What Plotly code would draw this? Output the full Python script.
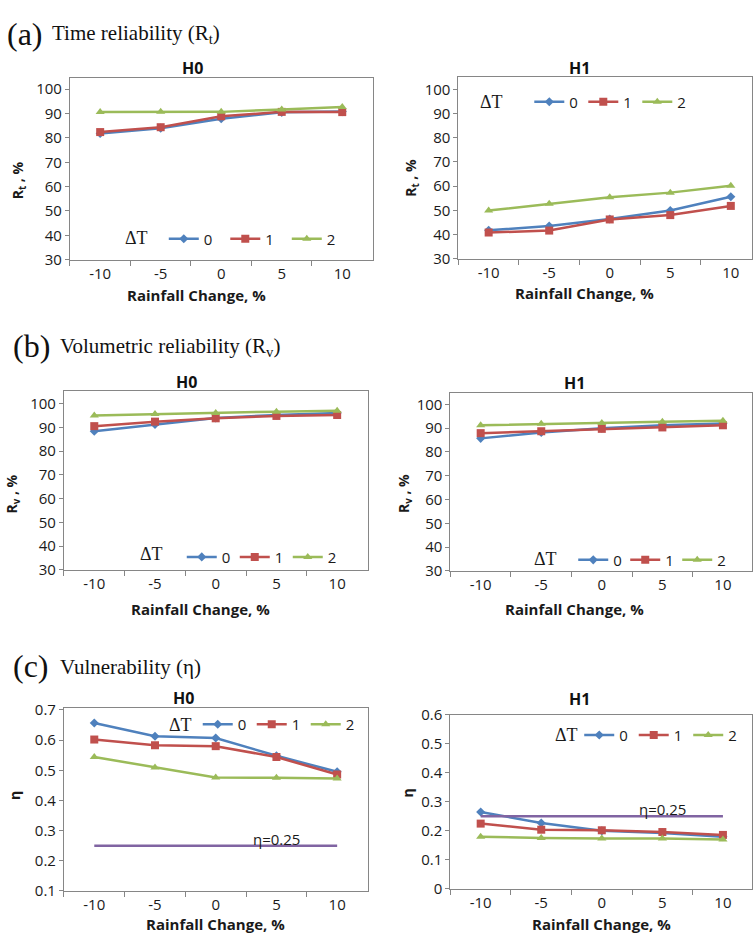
import plotly.graph_objects as go

W, H = 753, 941

rain = ["-10", "-5", "0", "5", "10"]
dT_names = ["0", "1", "2"]

# (a) Time reliability Rt
rt_h0_0 = [81.8, 84.0, 87.9, 90.5, 90.8]
rt_h0_1 = [82.4, 84.4, 88.9, 90.7, 90.6]
rt_h0_2 = [90.6, 90.7, 90.7, 91.7, 92.7]
rt_h1_0 = [41.7, 43.5, 46.4, 49.9, 55.6]
rt_h1_1 = [40.8, 41.6, 46.2, 48.0, 51.8]
rt_h1_2 = [49.9, 52.7, 55.4, 57.3, 60.1]

# (b) Volumetric reliability Rv
rv_h0_0 = [88.4, 91.2, 93.9, 95.2, 96.0]
rv_h0_1 = [90.5, 92.4, 93.8, 94.8, 95.2]
rv_h0_2 = [95.0, 95.6, 96.0, 96.6, 97.0]
rv_h1_0 = [85.7, 88.2, 90.0, 91.2, 92.0]
rv_h1_1 = [87.9, 88.7, 89.7, 90.3, 91.2]
rv_h1_2 = [91.2, 91.8, 92.2, 92.7, 93.1]

# (c) Vulnerability eta
eta_h0_0 = [0.657, 0.613, 0.607, 0.548, 0.495]
eta_h0_1 = [0.602, 0.583, 0.580, 0.544, 0.486]
eta_h0_2 = [0.544, 0.509, 0.476, 0.475, 0.473]
eta_h1_0 = [0.265, 0.227, 0.200, 0.193, 0.180]
eta_h1_1 = [0.225, 0.204, 0.202, 0.196, 0.186]
eta_h1_2 = [0.180, 0.175, 0.174, 0.174, 0.170]
eta_threshold = 0.25
eta_label = "η=0.25"

COLORS = ["#4F81BD", "#C0504D", "#9BBB59"]
SYMBOLS = ["diamond", "square", "triangle-up"]
MSIZE = [7, 8, 8]
PURPLE = "#8064A2"
NUMFONT = "Open Sans"
SERIF = "Liberation Serif"
AXC = "#868686"
TXT = "#1a1a1a"

fig = go.Figure()


def dom_x(l, r):
    return [l / W, min(r / W, 1.0)]


def dom_y(top, bot):
    return [1 - bot / H, 1 - top / H]


def py(v):
    return 1 - v / H


panels = [
    dict(series=[rt_h0_0, rt_h0_1, rt_h0_2], box=(70, 373, 68, 254), yr=[30, 104.8],
         yt=list(range(30, 101, 10)), xr=[-0.5, 4.5], ytitle="R<sub>t</sub> , %", title="H0",
         title_xy=(193, 58), xt_xy=(197, 290), yt_xy=(18, 173),
         dT=(123, 232), leg=(169, 233), sp=63.5, thr=False),
    dict(series=[rt_h1_0, rt_h1_1, rt_h1_2], box=(459, 753, 67, 253), yr=[30, 105.3],
         yt=list(range(30, 101, 10)), xr=[-0.5, 4.35], ytitle="R<sub>t</sub> , %", title="H1",
         title_xy=(580, 58), xt_xy=(585, 288), yt_xy=(412, 170),
         dT=(479, 93), leg=(535, 93), sp=56, thr=False),
    dict(series=[rv_h0_0, rv_h0_1, rv_h0_2], box=(64, 368, 388, 571), yr=[30, 105.4],
         yt=list(range(30, 101, 10)), xr=[-0.5, 4.5], ytitle="R<sub>v</sub> , %", title="H0",
         title_xy=(187, 379), xt_xy=(201, 611), yt_xy=(13, 493),
         dT=(138, 555), leg=(187, 558), sp=55, thr=False),
    dict(series=[rv_h1_0, rv_h1_1, rv_h1_2], box=(451, 753, 390, 572), yr=[30, 104.9],
         yt=list(range(30, 101, 10)), xr=[-0.5, 4.48], ytitle="R<sub>v</sub> , %", title="H1",
         title_xy=(575, 380), xt_xy=(575, 611), yt_xy=(405, 493),
         dT=(533, 560), leg=(579, 561), sp=54, thr=False),
    dict(series=[eta_h0_0, eta_h0_1, eta_h0_2], box=(64, 368, 712, 899), yr=[0.1, 0.707],
         yt=[0.1, 0.2, 0.3, 0.4, 0.5, 0.6, 0.7], xr=[-0.5, 4.5], ytitle="η", title="H0",
         title_xy=(184, 702), xt_xy=(216, 933), yt_xy=(15, 801),
         dT=(167, 729), leg=(203, 729), sp=56, thr=True),
    dict(series=[eta_h1_0, eta_h1_1, eta_h1_2], box=(451, 753, 719, 897), yr=[0, 0.6],
         yt=[0, 0.1, 0.2, 0.3, 0.4, 0.5, 0.6], xr=[-0.5, 4.48], ytitle="η", title="H1",
         title_xy=(580, 703), xt_xy=(602, 933), yt_xy=(408, 799),
         dT=(554, 740), leg=(585, 740), sp=56.5, thr=True),
]

layout = dict(
    width=W, height=H, margin=dict(l=0, r=0, t=0, b=0),
    paper_bgcolor="white", plot_bgcolor="white", showlegend=True,
    font=dict(family=NUMFONT, size=15, color=TXT),
)
annotations = []

for i, p in enumerate(panels):
    k = i + 1
    xa = "x" if k == 1 else f"x{k}"
    ya = "y" if k == 1 else f"y{k}"
    lg = "legend" if k == 1 else f"legend{k}"
    l, r, top, bot = p["box"]
    for j, s in enumerate(p["series"]):
        fig.add_trace(go.Scatter(
            x=rain, y=s, mode="lines+markers", name=dT_names[j],
            line=dict(color=COLORS[j], width=2.5),
            marker=dict(symbol=SYMBOLS[j], size=MSIZE[j], color=COLORS[j]),
            xaxis=xa, yaxis=ya, legend=lg, cliponaxis=False,
        ))
    if p["thr"]:
        fig.add_trace(go.Scatter(
            x=rain, y=[eta_threshold] * len(rain), mode="lines",
            line=dict(color=PURPLE, width=2.5), showlegend=False,
            xaxis=xa, yaxis=ya, legend=lg,
        ))
        annotations.append(dict(
            x=rain.index("5"), y=eta_threshold, xref=xa, yref=ya, text=eta_label,
            showarrow=False, yanchor="middle", xanchor="center", yshift=7,
            font=dict(family=NUMFONT, size=15, color=TXT),
        ))
    layout["xaxis" if k == 1 else f"xaxis{k}"] = dict(
        domain=dom_x(l, r), anchor=ya, type="category", range=p["xr"],
        tickson="boundaries", ticks="outside", ticklen=5, tickcolor=AXC,
        showline=True, linecolor=AXC, linewidth=1, mirror=True, showgrid=False,
        zeroline=False, tickfont=dict(family=NUMFONT, size=15, color=TXT),
        fixedrange=True,
    )
    layout["yaxis" if k == 1 else f"yaxis{k}"] = dict(
        domain=dom_y(top, bot), anchor=xa, range=p["yr"], tickvals=p["yt"],
        ticks="outside", ticklen=4, tickcolor=AXC,
        showline=True, linecolor=AXC, linewidth=1, mirror=True, showgrid=False,
        zeroline=False, tickfont=dict(family=NUMFONT, size=15, color=TXT),
        fixedrange=True,
    )
    layout[lg] = dict(
        orientation="h", x=(p["leg"][0] - 5) / W, y=py(p["leg"][1]),
        xanchor="left", yanchor="middle", bgcolor="rgba(0,0,0,0)",
        borderwidth=0,
        font=dict(family=NUMFONT, size=15, color=TXT),
        itemwidth=30, entrywidth=p["sp"] - 47, entrywidthmode="pixels",
    )
    annotations.append(dict(
        x=p["dT"][0] / W, y=py(p["dT"][1]), xref="paper", yref="paper", text="ΔT",
        showarrow=False, xanchor="left", yanchor="middle",
        font=dict(family=SERIF, size=18, color=TXT),
    ))
    annotations.append(dict(
        x=p["title_xy"][0] / W, y=py(p["title_xy"][1]), xref="paper", yref="paper",
        text="<b>" + p["title"] + "</b>", showarrow=False, xanchor="center", yanchor="middle",
        font=dict(family=NUMFONT, size=16, color="#111"),
    ))
    annotations.append(dict(
        x=p["xt_xy"][0] / W, y=py(p["xt_xy"][1]), xref="paper", yref="paper",
        text="<b>Rainfall Change, %</b>", showarrow=False, xanchor="center", yanchor="middle",
        font=dict(family=NUMFONT, size=15, color=TXT),
    ))
    annotations.append(dict(
        x=p["yt_xy"][0] / W, y=py(p["yt_xy"][1]), xref="paper", yref="paper",
        text="<b>" + p["ytitle"] + "</b>", showarrow=False, xanchor="center", yanchor="middle",
        textangle=-90, font=dict(family=NUMFONT, size=14, color=TXT),
    ))

headers = [
    ("(a)", "Time reliability (R<sub>t</sub>)", 5, 50, 23),
    ("(b)", "Volumetric reliability (R<sub>v</sub>)", 11, 58, 342),
    ("(c)", "Vulnerability (η)", 11, 58, 669),
]
for lab, txt, x0, x1, yc in headers:
    annotations.append(dict(x=x0 / W, y=py(yc), xref="paper", yref="paper", text=lab,
                            showarrow=False, xanchor="left", yanchor="middle",
                            font=dict(family=SERIF, size=32, color="#111")))
    annotations.append(dict(x=x1 / W, y=py(yc + 1), xref="paper", yref="paper", text=txt,
                            showarrow=False, xanchor="left", yanchor="middle",
                            font=dict(family=SERIF, size=21, color="#111")))

layout["annotations"] = annotations
fig.update_layout(**layout)

POST = (
    "var gd=document.getElementById('{plot_id}');"
    "document.body.style.margin='0';"
    "document.body.style.overflow='hidden';"
    "gd.style.position='fixed';gd.style.top='0px';gd.style.left='0px';"
)
fig.write_html("out.html", config={"displayModeBar": False}, post_script=POST)
